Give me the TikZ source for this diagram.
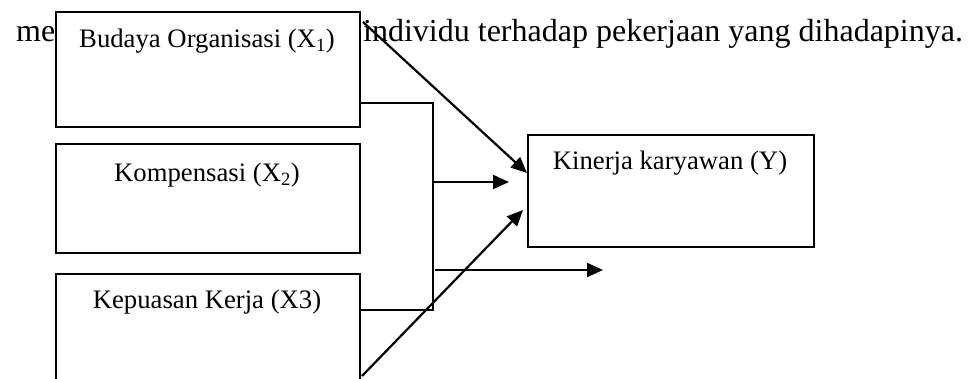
\documentclass[tikz,border=0pt]{standalone}
\usepackage{fontspec}
\setmainfont{Liberation Serif}
\usetikzlibrary{arrows.meta}
\begin{document}
\begin{tikzpicture}[x=1pt,y=-1pt,
  box/.style={draw=black,fill=white,line width=1.8pt,rectangle,inner sep=0pt,anchor=north west},
  boxlabel/.style={anchor=base,inner sep=0pt,font=\fontsize{26.7}{32}\selectfont},
  bodytext/.style={anchor=base west,inner sep=0pt,font=\fontsize{32}{38}\selectfont},
  link/.style={line width=2.2pt},
  arr/.style={line width=2.2pt,-{Triangle[length=16pt,width=14pt]}}]
\useasboundingbox (0,0) rectangle (968,379);
\clip (0,0) rectangle (968,379);
\fill[white] (0,0) rectangle (968,379);

% running text behind the boxes
\node[bodytext] (t1) at (16,42) {me};
\node[bodytext] (t2) at (363,42) {individu terhadap pekerjaan yang dihadapinya.};

% variable boxes
\node[box,minimum width=304pt,minimum height=115pt] (b1) at (55,11) {};
\node[box,minimum width=304pt,minimum height=109pt] (b2) at (55,143) {};
\node[box,minimum width=304pt,minimum height=140pt] (b3) at (55,273) {};
\node[box,minimum width=286pt,minimum height=112pt] (by) at (527,134) {};

\node[boxlabel] (l1) at (207,48) {Budaya Organisasi (X\textsubscript{1})};
\node[boxlabel] (l2) at (207,182) {Kompensasi (X\textsubscript{2})};
\node[boxlabel] (l3) at (207,308) {Kepuasan Kerja (X3)};
\node[boxlabel] (ly) at (670,170) {Kinerja karyawan (Y)};

% bracket joining X1 and X3
\coordinate (j1) at (433,103);
\coordinate (j2) at (433,310);
\draw[link] (b1.east |- j1) -- (j1) -- (j2) -- (b3.east |- j2);

% horizontal arrows
\coordinate (a1s) at (433,182);
\coordinate (a1e) at (509,182);
\draw[arr] (a1s) -- (a1e);
\coordinate (a2s) at (435,270);
\coordinate (a2e) at (603,270);
\draw[arr] (a2s) -- (a2e);

% diagonal arrows into Y
\coordinate (d1s) at (363,22);
\coordinate (d1e) at (527,173);
\draw[arr] (d1s) -- (d1e);
\coordinate (d2s) at (362,376);
\coordinate (d2e) at (523,210);
\draw[arr] (d2s) -- (d2e);
\end{tikzpicture}
\end{document}
